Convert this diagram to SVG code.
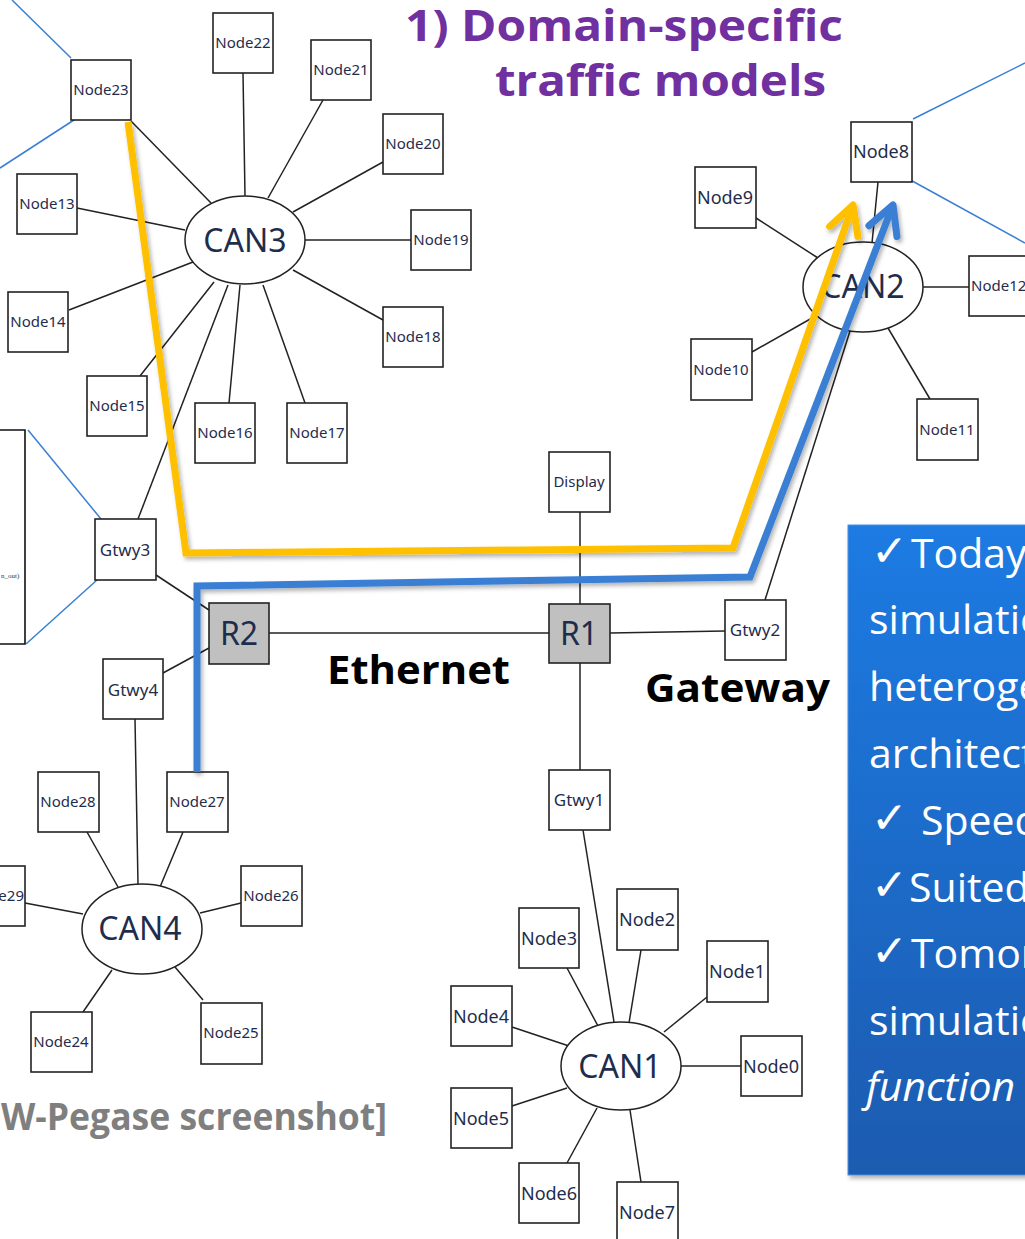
<svg xmlns="http://www.w3.org/2000/svg" width="1025" height="1239" viewBox="0 0 1025 1239">
<defs>
<style>
.box{fill:#fff;stroke:#222;stroke-width:1.6}
.rt{fill:#c0c0c0;stroke:#222;stroke-width:1.6}
.bus{fill:#fff;stroke:#222;stroke-width:1.5}
.ln{stroke:#222;stroke-width:1.5;fill:none}
.bl{stroke:#3A7FD5;stroke-width:1.5;fill:none}
.lbl{font-family:"Noto Sans","DejaVu Sans",sans-serif;fill:#1f2d4d;text-anchor:middle}
.st{text-anchor:start}
.en{text-anchor:end}
.s15{font-size:15px}
.s17{font-size:17px}
.s18{font-size:18px}
.big{font-size:32px}
.hd{font-family:"Open Sans","Noto Sans",sans-serif;font-weight:bold}
.bx{font-family:"Open Sans","Noto Sans",sans-serif;font-size:41px;fill:#fff}
.ck{font-family:"DejaVu Sans",sans-serif;font-size:44px;fill:#fff}
.path{fill:none;stroke-width:7;stroke-linejoin:miter}
</style>
<filter id="sh" x="-10%" y="-10%" width="130%" height="130%">
<feDropShadow dx="2" dy="3" stdDeviation="2" flood-color="#000" flood-opacity="0.3"/>
</filter>
<linearGradient id="bg" x1="0" y1="0" x2="0" y2="1">
<stop offset="0" stop-color="#1F7BE3"/>
<stop offset="1" stop-color="#1A5BB0"/>
</linearGradient>
<marker id="ay" markerUnits="userSpaceOnUse" markerWidth="60" markerHeight="60" viewBox="-40 -30 60 60" refX="0" refY="0" orient="auto" overflow="visible">
<path d="M-28,-15 L0,0 L-28,15" fill="none" stroke="#FFC000" stroke-width="7" stroke-linecap="round" stroke-linejoin="round"/>
</marker>
<marker id="ab" markerUnits="userSpaceOnUse" markerWidth="60" markerHeight="60" viewBox="-40 -30 60 60" refX="0" refY="0" orient="auto" overflow="visible">
<path d="M-28,-15 L0,0 L-28,15" fill="none" stroke="#3A7FD5" stroke-width="7" stroke-linecap="round" stroke-linejoin="round"/>
</marker>
</defs>
<rect width="1025" height="1239" fill="#fff"/>

<g id="connectors">
<line class="ln" x1="131" y1="121" x2="211" y2="203"/>
<line class="ln" x1="243" y1="73" x2="245" y2="196"/>
<line class="ln" x1="323" y1="100" x2="268" y2="198"/>
<line class="ln" x1="383" y1="162" x2="293" y2="212"/>
<line class="ln" x1="305" y1="240" x2="411" y2="240"/>
<line class="ln" x1="77" y1="208" x2="185" y2="230"/>
<line class="ln" x1="69" y1="310" x2="193" y2="262"/>
<line class="ln" x1="140" y1="376" x2="214" y2="282"/>
<line class="ln" x1="228" y1="285" x2="138" y2="519"/>
<line class="ln" x1="240" y1="285" x2="229" y2="403"/>
<line class="ln" x1="263" y1="285" x2="305" y2="403"/>
<line class="ln" x1="293" y1="270" x2="383" y2="320"/>
<line class="ln" x1="156" y1="575" x2="209" y2="610"/>
<line class="ln" x1="163" y1="673" x2="209" y2="648"/>
<line class="ln" x1="269" y1="633" x2="549" y2="633"/>
<line class="ln" x1="580" y1="512" x2="580" y2="604"/>
<line class="ln" x1="610" y1="633" x2="725" y2="631"/>
<line class="ln" x1="580" y1="663" x2="580" y2="770"/>
<line class="ln" x1="765" y1="600" x2="850" y2="331"/>
<line class="ln" x1="135" y1="719" x2="138" y2="884"/>
<line class="ln" x1="756" y1="218" x2="818" y2="258"/>
<line class="ln" x1="878" y1="182" x2="872" y2="243"/>
<line class="ln" x1="923" y1="287" x2="969" y2="287"/>
<line class="ln" x1="752" y1="352" x2="812" y2="318"/>
<line class="ln" x1="930" y1="399" x2="888" y2="328"/>
<line class="ln" x1="87" y1="832" x2="118" y2="887"/>
<line class="ln" x1="183" y1="832" x2="160" y2="887"/>
<line class="ln" x1="25" y1="903" x2="83" y2="914"/>
<line class="ln" x1="241" y1="903" x2="200" y2="913"/>
<line class="ln" x1="83" y1="1012" x2="112" y2="970"/>
<line class="ln" x1="203" y1="1000" x2="175" y2="967"/>
<line class="ln" x1="583" y1="830" x2="614" y2="1022"/>
<line class="ln" x1="641" y1="950" x2="629" y2="1023"/>
<line class="ln" x1="567" y1="968" x2="598" y2="1026"/>
<line class="ln" x1="707" y1="997" x2="664" y2="1032"/>
<line class="ln" x1="512" y1="1027" x2="569" y2="1046"/>
<line class="ln" x1="681" y1="1066" x2="741" y2="1066"/>
<line class="ln" x1="512" y1="1106" x2="567" y2="1088"/>
<line class="ln" x1="567" y1="1163" x2="597" y2="1108"/>
<line class="ln" x1="641" y1="1182" x2="630" y2="1110"/>
<line class="bl" x1="12" y1="0" x2="71" y2="58"/>
<line class="bl" x1="0" y1="168" x2="77" y2="118"/>
<line class="bl" x1="913" y1="119" x2="1025" y2="63"/>
<line class="bl" x1="905" y1="177" x2="1025" y2="243"/>
<line class="bl" x1="28" y1="430" x2="101" y2="519"/>
<line class="bl" x1="26" y1="644" x2="97" y2="580"/>
</g>

<g id="leftpanel">
<path d="M-5,430 L25,430 L25,644 L-5,644" fill="#fff" stroke="#111" stroke-width="1.6"/>
<text x="1" y="578" font-family="Liberation Serif,serif" font-size="7" fill="#333">n_out)</text>
</g>

<g id="can3"><ellipse class="bus" cx="245" cy="240" rx="60" ry="44"/><text class="lbl big" x="245" y="252">CAN3</text></g>
<g id="node22"><rect class="box" x="213" y="13" width="60" height="60"/><text class="lbl s15" x="243" y="48">Node22</text></g>
<g id="node21"><rect class="box" x="311" y="40" width="60" height="60"/><text class="lbl s15" x="341" y="75">Node21</text></g>
<g id="node20"><rect class="box" x="383" y="114" width="60" height="60"/><text class="lbl s15" x="413" y="149">Node20</text></g>
<g id="node19"><rect class="box" x="411" y="210" width="60" height="60"/><text class="lbl s15" x="441" y="245">Node19</text></g>
<g id="node23"><rect class="box" x="71" y="60" width="60" height="60"/><text class="lbl s15" x="101" y="95">Node23</text></g>
<g id="node13"><rect class="box" x="17" y="174" width="60" height="60"/><text class="lbl s15" x="47" y="209">Node13</text></g>
<g id="node14"><rect class="box" x="8" y="292" width="60" height="60"/><text class="lbl s15" x="38" y="327">Node14</text></g>
<g id="node15"><rect class="box" x="87" y="376" width="60" height="60"/><text class="lbl s15" x="117" y="411">Node15</text></g>
<g id="node16"><rect class="box" x="195" y="403" width="60" height="60"/><text class="lbl s15" x="225" y="438">Node16</text></g>
<g id="node17"><rect class="box" x="287" y="403" width="60" height="60"/><text class="lbl s15" x="317" y="438">Node17</text></g>
<g id="node18"><rect class="box" x="383" y="307" width="60" height="60"/><text class="lbl s15" x="413" y="342">Node18</text></g>

<g id="gtwy3"><rect class="box" x="95" y="519" width="61" height="61"/><text class="lbl s17" x="125" y="556">Gtwy3</text></g>
<g id="r2"><rect class="rt" x="209" y="603" width="60" height="61"/><text class="lbl big" x="239" y="645" fill="#333">R2</text></g>
<g id="gtwy4"><rect class="box" x="103" y="659" width="60" height="60"/><text class="lbl s17" x="133" y="696">Gtwy4</text></g>
<g id="display"><rect class="box" x="549" y="452" width="61" height="60"/><text class="lbl s15" x="579" y="487">Display</text></g>
<g id="r1"><rect class="rt" x="549" y="604" width="61" height="59"/><text class="lbl big" x="579" y="645" fill="#333">R1</text></g>
<g id="gtwy2"><rect class="box" x="725" y="600" width="61" height="60"/><text class="lbl s17" x="755" y="636">Gtwy2</text></g>
<g id="gtwy1"><rect class="box" x="549" y="770" width="61" height="60"/><text class="lbl s17" x="579" y="806">Gtwy1</text></g>

<g id="can2"><ellipse class="bus" cx="863" cy="287" rx="60" ry="45"/><text class="lbl big" x="863" y="298">CAN2</text></g>
<g id="node8"><rect class="box" x="851" y="122" width="61" height="60"/><text class="lbl s18" x="881" y="158">Node8</text></g>
<g id="node9"><rect class="box" x="695" y="167" width="61" height="61"/><text class="lbl s18" x="725" y="204">Node9</text></g>
<g id="node12"><rect class="box" x="969" y="256" width="61" height="60"/><text class="lbl s15 st" x="971" y="291">Node12</text></g>
<g id="node10"><rect class="box" x="691" y="339" width="61" height="61"/><text class="lbl s15" x="721" y="375">Node10</text></g>
<g id="node11"><rect class="box" x="917" y="399" width="61" height="61"/><text class="lbl s15" x="947" y="435">Node11</text></g>

<g id="can4"><ellipse class="bus" cx="142" cy="929" rx="60" ry="45"/><text class="lbl big" x="140" y="940">CAN4</text></g>
<g id="node28"><rect class="box" x="38" y="772" width="61" height="60"/><text class="lbl s15" x="68" y="807">Node28</text></g>
<g id="node27"><rect class="box" x="167" y="772" width="61" height="60"/><text class="lbl s15" x="197" y="807">Node27</text></g>
<g id="node29"><rect class="box" x="-35" y="866" width="60" height="60"/><text class="lbl s15 en" x="24" y="901">Node29</text></g>
<g id="node26"><rect class="box" x="241" y="866" width="61" height="60"/><text class="lbl s15" x="271" y="901">Node26</text></g>
<g id="node24"><rect class="box" x="31" y="1012" width="61" height="60"/><text class="lbl s15" x="61" y="1047">Node24</text></g>
<g id="node25"><rect class="box" x="201" y="1003" width="61" height="61"/><text class="lbl s15" x="231" y="1038">Node25</text></g>

<g id="can1"><ellipse class="bus" cx="621" cy="1066" rx="60" ry="44"/><text class="lbl big" x="620" y="1078">CAN1</text></g>
<g id="node2"><rect class="box" x="617" y="889" width="61" height="61"/><text class="lbl s18" x="647" y="926">Node2</text></g>
<g id="node3"><rect class="box" x="519" y="908" width="60" height="60"/><text class="lbl s18" x="549" y="945">Node3</text></g>
<g id="node1"><rect class="box" x="707" y="941" width="61" height="61"/><text class="lbl s18" x="737" y="978">Node1</text></g>
<g id="node4"><rect class="box" x="451" y="986" width="61" height="60"/><text class="lbl s18" x="481" y="1023">Node4</text></g>
<g id="node0"><rect class="box" x="741" y="1036" width="61" height="60"/><text class="lbl s18" x="771" y="1073">Node0</text></g>
<g id="node5"><rect class="box" x="451" y="1088" width="61" height="60"/><text class="lbl s18" x="481" y="1125">Node5</text></g>
<g id="node6"><rect class="box" x="519" y="1163" width="60" height="60"/><text class="lbl s18" x="549" y="1200">Node6</text></g>
<g id="node7"><rect class="box" x="617" y="1182" width="61" height="61"/><text class="lbl s18" x="647" y="1219">Node7</text></g>

<g id="paths" filter="url(#sh)">
<polyline class="path" stroke="#FFC000" points="128,122 186,553 733,548 853,205" marker-end="url(#ay)"/>
<polyline class="path" stroke="#3A7FD5" points="197,772 197,586 750,577 893,205" marker-end="url(#ab)"/>
</g>

<g id="labels">
<text class="hd" x="405" y="41" font-size="43" fill="#7030A0" textLength="438" lengthAdjust="spacingAndGlyphs">1) Domain-specific</text>
<text class="hd" x="495" y="96" font-size="43" fill="#7030A0" textLength="331" lengthAdjust="spacingAndGlyphs">traffic models</text>
<text class="hd" x="327" y="684" font-size="40" fill="#000" textLength="183" lengthAdjust="spacingAndGlyphs">Ethernet</text>
<text class="hd" x="645" y="702" font-size="40" fill="#000" textLength="185" lengthAdjust="spacingAndGlyphs">Gateway</text>
<text class="hd" x="1" y="1130" font-size="38" fill="#7F7F7F" textLength="386" lengthAdjust="spacingAndGlyphs">W-Pegase screenshot]</text>
</g>

<g id="infobox">
<rect x="848" y="525" width="200" height="650" fill="url(#bg)" stroke="#4a90e2" stroke-width="1" filter="url(#sh)"/>
<text class="ck" x="871" y="566">✓</text><text class="bx" x="911" y="568">Today</text>
<text class="bx" x="869" y="634">simulatio</text>
<text class="bx" x="869" y="701">heteroge</text>
<text class="bx" x="869" y="768">architect</text>
<text class="ck" x="871" y="833">✓</text><text class="bx" x="921" y="835">Speed</text>
<text class="ck" x="871" y="900">✓</text><text class="bx" x="909" y="902">Suited</text>
<text class="ck" x="871" y="966">✓</text><text class="bx" x="911" y="968">Tomor</text>
<text class="bx" x="869" y="1035">simulatio</text>
<text class="bx" x="866" y="1101" font-style="italic">function</text>
</g>
</svg>
